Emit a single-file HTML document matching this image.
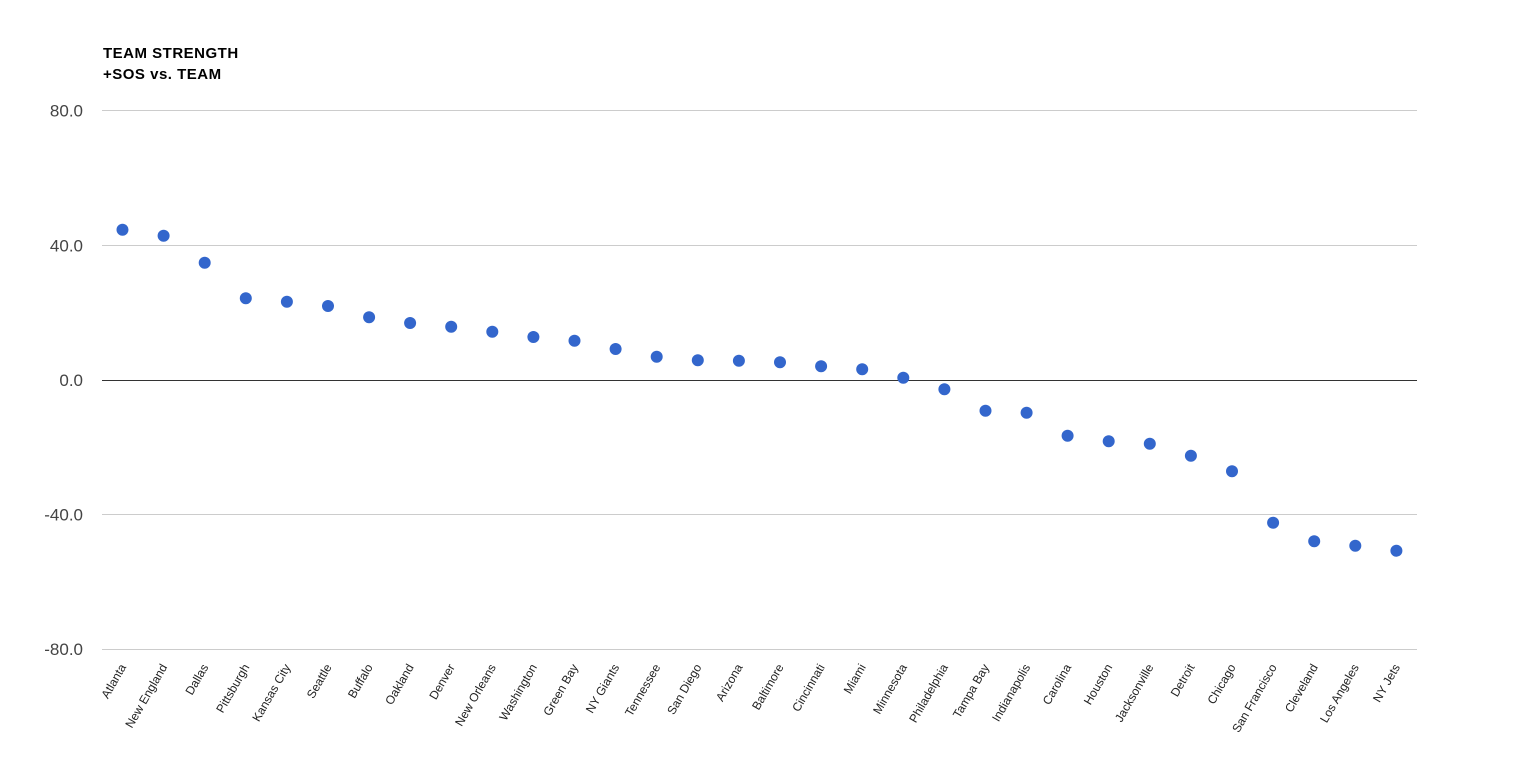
<!DOCTYPE html>
<html>
<head>
<meta charset="utf-8">
<style>
html,body{margin:0;padding:0;background:#fff;}
svg{display:block;}
</style>
</head>
<body>
<svg width="1525" height="769" viewBox="0 0 1525 769" xmlns="http://www.w3.org/2000/svg">
<rect width="1525" height="769" fill="#fff"/>
<g font-family="Liberation Sans, Arial, sans-serif" font-weight="bold" font-size="15" fill="#000" letter-spacing="0.5">
<text x="103" y="58">TEAM STRENGTH</text>
<text x="103" y="79">+SOS vs. TEAM</text>
</g>
<g stroke="#cccccc" stroke-width="1">
<line x1="102" y1="110.5" x2="1417" y2="110.5"/>
<line x1="102" y1="245.5" x2="1417" y2="245.5"/>
<line x1="102" y1="514.5" x2="1417" y2="514.5"/>
<line x1="102" y1="649.5" x2="1417" y2="649.5"/>
</g>
<line x1="102" y1="380.5" x2="1417" y2="380.5" stroke="#333333" stroke-width="1"/>
<g font-family="Liberation Sans, Arial, sans-serif" font-size="17" fill="#444444" text-anchor="end">
<text x="83" y="116.5">80.0</text>
<text x="83" y="251.5">40.0</text>
<text x="83" y="386">0.0</text>
<text x="83" y="520.5">-40.0</text>
<text x="83" y="655">-80.0</text>
</g>
<g fill="#3366cc">
<circle cx="122.5" cy="229.7" r="6"/>
<circle cx="163.6" cy="235.7" r="6"/>
<circle cx="204.7" cy="262.7" r="6"/>
<circle cx="245.8" cy="298.3" r="6"/>
<circle cx="286.9" cy="301.7" r="6"/>
<circle cx="328.0" cy="306" r="6"/>
<circle cx="369.1" cy="317.3" r="6"/>
<circle cx="410.1" cy="323" r="6"/>
<circle cx="451.2" cy="326.7" r="6"/>
<circle cx="492.3" cy="331.7" r="6"/>
<circle cx="533.4" cy="337" r="6"/>
<circle cx="574.5" cy="340.7" r="6"/>
<circle cx="615.6" cy="349" r="6"/>
<circle cx="656.7" cy="356.7" r="6"/>
<circle cx="697.8" cy="360.3" r="6"/>
<circle cx="738.9" cy="360.7" r="6"/>
<circle cx="780.0" cy="362.3" r="6"/>
<circle cx="821.1" cy="366.3" r="6"/>
<circle cx="862.2" cy="369.3" r="6"/>
<circle cx="903.3" cy="377.7" r="6"/>
<circle cx="944.4" cy="389.3" r="6"/>
<circle cx="985.5" cy="410.7" r="6"/>
<circle cx="1026.6" cy="412.7" r="6"/>
<circle cx="1067.6" cy="435.7" r="6"/>
<circle cx="1108.7" cy="441.3" r="6"/>
<circle cx="1149.8" cy="443.7" r="6"/>
<circle cx="1190.9" cy="455.7" r="6"/>
<circle cx="1232.0" cy="471.3" r="6"/>
<circle cx="1273.1" cy="522.7" r="6"/>
<circle cx="1314.2" cy="541.3" r="6"/>
<circle cx="1355.3" cy="545.7" r="6"/>
<circle cx="1396.4" cy="550.7" r="6"/>
</g>
<g font-family="Liberation Sans, Arial, sans-serif" font-size="12" fill="#222222" text-anchor="end">
<text transform="translate(126.5,667) rotate(-60)">Atlanta</text>
<text transform="translate(167.6,667) rotate(-60)">New England</text>
<text transform="translate(208.7,667) rotate(-60)">Dallas</text>
<text transform="translate(249.8,667) rotate(-60)">Pittsburgh</text>
<text transform="translate(290.9,667) rotate(-60)">Kansas City</text>
<text transform="translate(332.0,667) rotate(-60)">Seattle</text>
<text transform="translate(373.1,667) rotate(-60)">Buffalo</text>
<text transform="translate(414.1,667) rotate(-60)">Oakland</text>
<text transform="translate(455.2,667) rotate(-60)">Denver</text>
<text transform="translate(496.3,667) rotate(-60)">New Orleans</text>
<text transform="translate(537.4,667) rotate(-60)">Washington</text>
<text transform="translate(578.5,667) rotate(-60)">Green Bay</text>
<text transform="translate(619.6,667) rotate(-60)">NY Giants</text>
<text transform="translate(660.7,667) rotate(-60)">Tennessee</text>
<text transform="translate(701.8,667) rotate(-60)">San Diego</text>
<text transform="translate(742.9,667) rotate(-60)">Arizona</text>
<text transform="translate(784.0,667) rotate(-60)">Baltimore</text>
<text transform="translate(825.1,667) rotate(-60)">Cincinnati</text>
<text transform="translate(866.2,667) rotate(-60)">Miami</text>
<text transform="translate(907.3,667) rotate(-60)">Minnesota</text>
<text transform="translate(948.4,667) rotate(-60)">Philadelphia</text>
<text transform="translate(989.5,667) rotate(-60)">Tampa Bay</text>
<text transform="translate(1030.6,667) rotate(-60)">Indianapolis</text>
<text transform="translate(1071.6,667) rotate(-60)">Carolina</text>
<text transform="translate(1112.7,667) rotate(-60)">Houston</text>
<text transform="translate(1153.8,667) rotate(-60)">Jacksonville</text>
<text transform="translate(1194.9,667) rotate(-60)">Detroit</text>
<text transform="translate(1236.0,667) rotate(-60)">Chicago</text>
<text transform="translate(1277.1,667) rotate(-60)">San Francisco</text>
<text transform="translate(1318.2,667) rotate(-60)">Cleveland</text>
<text transform="translate(1359.3,667) rotate(-60)">Los Angeles</text>
<text transform="translate(1400.4,667) rotate(-60)">NY Jets</text>
</g>
</svg>
</body>
</html>
